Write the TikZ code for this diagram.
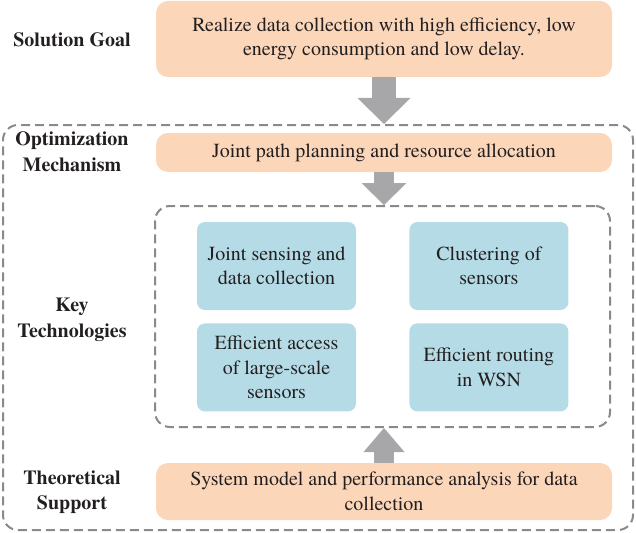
\documentclass[tikz,border=0pt]{standalone}
\usepackage{fontspec}
\setmainfont{texgyretermes}[Extension=.otf, UprightFont=*-regular, BoldFont=*-bold, ItalicFont=*-italic, BoldItalicFont=*-bolditalic]
\usetikzlibrary{arrows.meta,positioning}

\definecolor{peach}{HTML}{FBD6B9}
\definecolor{paleblue}{HTML}{B5DCE6}
\definecolor{arrowgray}{HTML}{A7A7AA}
\definecolor{dashgray}{HTML}{8A8A8C}
\definecolor{inkblack}{HTML}{231F20}

\begin{document}
\begin{tikzpicture}[
    x = 1pt, y = -1pt, % pixel units, y grows downwards
    node distance = 13pt and 53pt, % gaps between technology boxes
    font = \fontsize{20}{24.5}\selectfont,
    text = inkblack
    ]

    \tikzset{
    goalbox/.style = {fill=peach, rounded corners=12pt, minimum width=456pt, inner sep=0pt, align=center},
    techbox/.style = {fill=paleblue, rounded corners=8pt, minimum width=159pt, minimum height=88pt, inner sep=0pt, align=center},
    dashframe/.style = {draw=dashgray, line width=2pt, dash pattern=on 9pt off 5pt, rounded corners=15pt, inner sep=0pt},
    rowlabel/.style = {font=\fontsize{20}{25.5}\selectfont\bfseries, align=center},
    fatarrow/.style = {draw=arrowgray, line width=#1}
    }

    \useasboundingbox (0,0) rectangle (636,532);

    % dashed frames
    \node[dashframe, minimum width=630pt, minimum height=405pt] (outer) at (318,327.5) {};
    \node[dashframe, minimum width=455pt, minimum height=221pt] (inner) at (382.5,316.5) {};

    % orange boxes
    \node[goalbox, minimum height=76pt] (goal) at (384,39)
        {Realize data collection with high efficiency, low\\energy consumption and low delay.};
    \node[goalbox, minimum height=39pt] (mechanism) at (384,152.5)
        {Joint path planning and resource allocation};
    \node[goalbox, minimum height=57pt] (theory) at (384,491.5)
        {System model and performance analysis for data\\collection};

    % key technologies
    \node[techbox] (sensing) at (276.5,266) {Joint sensing and\\data collection};
    \node[techbox] (cluster) [right=of sensing] {Clustering of\\sensors};
    \node[techbox] (access) [below=of sensing] {Efficient access\\of large-scale\\sensors};
    \node[techbox] (routing) [below=of cluster] {Efficient routing\\in WSN};

    % row labels
    \node[rowlabel] (goallabel) at (72,40) {Solution Goal};
    \node[rowlabel] (mechlabel) at (72,151.5) {Optimization\\Mechanism};
    \node[rowlabel] (keylabel) at (72,320) {Key\\Technologies};
    \node[rowlabel] (theorylabel) at (72,492) {Theoretical\\Support};

    % gray arrows
    \draw[fatarrow=24pt, -{Triangle[width=53pt, length=26pt, line width=0pt]}]
        (goal.south) -- (goal.south |- outer.north);
    \draw[fatarrow=20pt, -{Triangle[width=45pt, length=22pt, line width=0pt]}]
        (mechanism.south) -- (mechanism.south |- inner.north);
    \draw[fatarrow=20pt, -{Triangle[width=41pt, length=24pt, line width=0pt]}]
        (theory.north) -- (theory.north |- inner.south);

\end{tikzpicture}
\end{document}
